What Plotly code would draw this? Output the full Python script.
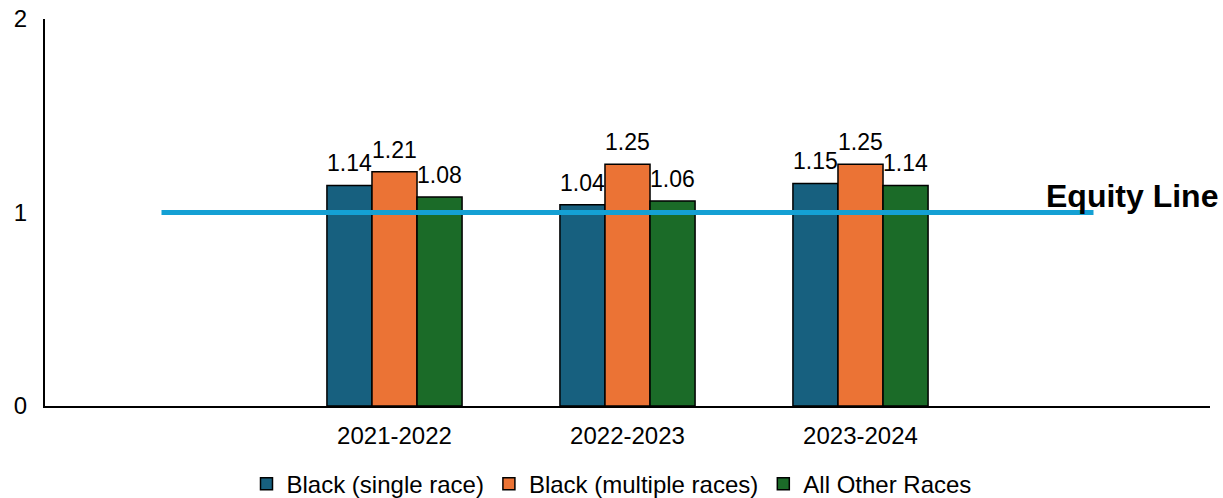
import plotly.graph_objects as go

# School years and the ratio for each group
years = ["2021-2022", "2022-2023", "2023-2024"]
black_single = [1.14, 1.04, 1.15]
black_multiple = [1.21, 1.25, 1.25]
all_other = [1.08, 1.06, 1.14]
equity_value = 1

series = [
    ("Black (single race)", black_single, "#17607f"),
    ("Black (multiple races)", black_multiple, "#eb7335"),
    ("All Other Races", all_other, "#1b6b28"),
]

BARGAP = 0.42

# one empty slot either side of the years
pos = list(range(1, len(years) + 1))
line_pos = list(range(0, len(years) + 2))

fig = go.Figure()
bar_w = (1 - BARGAP) / len(series)
for i, (name, vals, color) in enumerate(series):
    fig.add_trace(go.Bar(
        x=pos, y=vals, name=name,
        marker=dict(color=color, line=dict(color="#000000", width=1.5)),
        hoverinfo="name+y",
    ))
    # value labels sit a little above each bar
    shift = (i - (len(series) - 1) / 2) * bar_w
    for p, v in zip(pos, vals):
        fig.add_annotation(
            x=p + shift, y=v, xref="x", yref="y", text=f"{v:.2f}",
            showarrow=False, xanchor="center", yanchor="bottom", yshift=7,
            font=dict(size=23, color="#000000"),
        )

fig.add_trace(go.Scatter(
    x=line_pos, y=[equity_value] * len(line_pos), mode="lines",
    line=dict(color="#14a0d4", width=5), showlegend=False, hoverinfo="skip",
))

fig.add_annotation(
    x=line_pos[-1], y=equity_value, xref="x", yref="y",
    text="<b>Equity Line</b>", showarrow=False,
    xanchor="left", yanchor="bottom", xshift=-50, yshift=-3,
    font=dict(size=32, color="#000000"),
)

fig.update_layout(
    width=1223, height=498,
    margin=dict(l=45, r=13, t=19, b=92, autoexpand=False),
    paper_bgcolor="white", plot_bgcolor="white",
    font=dict(family="Liberation Sans, Arial, sans-serif", color="#000000"),
    barmode="group", bargap=BARGAP, bargroupgap=0,
    showlegend=True,
    legend=dict(orientation="h", x=0.5, xanchor="center", xref="container",
                y=0.028, yanchor="middle", yref="container",
                font=dict(size=24), itemwidth=30, tracegroupgap=0),
    xaxis=dict(range=[-0.5, len(years) + 1.5], tickvals=pos, ticktext=years,
               showline=True, linecolor="#000000", linewidth=2,
               showgrid=False, zeroline=False, ticks="",
               tickfont=dict(size=24), ticklabelstandoff=7),
    yaxis=dict(range=[0, 2], tickvals=[0, 1, 2],
               showline=True, linecolor="#000000", linewidth=2,
               showgrid=False, zeroline=False, ticks="",
               tickfont=dict(size=24), ticklabelstandoff=11),
)

fig.write_html("out.html")
